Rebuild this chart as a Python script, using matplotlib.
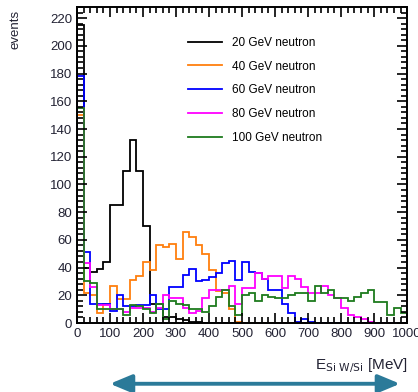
import numpy as np
import matplotlib
matplotlib.use('Agg')
import matplotlib.pyplot as plt
from matplotlib.ticker import MultipleLocator

plt.rcParams['font.family'] = ['Liberation Sans', 'DejaVu Sans']

# 50 bins of 20 MeV between 0 and 1000 MeV
edges = np.arange(0, 1001, 20)

n20 = [215, 40, 37, 39, 44, 85, 85, 110, 132, 110,
       70, 14, 14, 4, 4, 3, 2, 1, 1, 0,
       0, 0, 0, 0, 0, 0, 0, 0, 0, 0,
       0, 0, 0, 0, 0, 0, 0, 0, 0, 0,
       0, 0, 0, 0, 0, 0, 0, 0, 0, 0]
n40 = [150, 22, 20, 7, 14, 27, 17, 17, 31, 34,
       44, 38, 56, 55, 57, 46, 66, 62, 56, 50,
       38, 23, 22, 10, 1, 0, 0, 0, 0, 0,
       0, 0, 0, 0, 0, 0, 0, 0, 0, 0,
       0, 0, 0, 0, 0, 0, 0, 0, 0, 0]
n60 = [178, 51, 14, 14, 14, 9, 20, 12, 12, 13,
       13, 20, 10, 10, 26, 26, 35, 39, 30, 31,
       33, 36, 43, 45, 31, 44, 37, 36, 32, 24,
       24, 14, 7, 1, 3, 1, 0, 0, 0, 0,
       0, 0, 0, 0, 0, 0, 0, 0, 0, 0]
n80 = [155, 43, 26, 13, 13, 10, 10, 8, 11, 11,
       11, 8, 11, 20, 18, 18, 11, 7, 9, 18,
       24, 24, 24, 27, 14, 25, 25, 36, 32, 34,
       34, 25, 34, 32, 26, 22, 22, 27, 20, 18,
       11, 6, 4, 3, 1, 0, 0, 0, 0, 0]
n100 = [155, 30, 29, 10, 10, 10, 10, 6, 13, 12,
        10, 7, 14, 3, 16, 14, 13, 10, 10, 8,
        12, 19, 24, 12, 6, 20, 22, 16, 20, 19,
        18, 18, 20, 22, 22, 16, 27, 22, 24, 18,
        18, 16, 19, 22, 24, 15, 15, 6, 11, 7]

labels = ['20 GeV neutron', '40 GeV neutron', '60 GeV neutron',
          '80 GeV neutron', '100 GeV neutron']
colors = ['black', '#ff7f0e', '#0000ff', '#ff00ff', '#1e7b1e']

fig = plt.figure(figsize=(4.18, 3.92), dpi=100)
ax = fig.add_axes([0.184, 0.176, 0.79, 0.806])

for vals, lab, col in zip([n20, n40, n60, n80, n100], labels, colors):
    ax.stairs(vals, edges, baseline=0, color=col, lw=1.3, label=lab)

ax.set_xlim(0, 1000)
ax.set_ylim(0, 228)

ax.xaxis.set_major_locator(MultipleLocator(100))
ax.xaxis.set_minor_locator(MultipleLocator(20))
ax.yaxis.set_major_locator(MultipleLocator(20))
ax.yaxis.set_minor_locator(MultipleLocator(4))
ax.tick_params(which='both', direction='in', top=True, right=True,
               width=1.2, colors='black', labelcolor='#222233', labelsize=9.5)
ax.tick_params(which='major', length=7)
ax.tick_params(which='minor', length=4)
for s in ax.spines.values():
    s.set_linewidth(1.4)

ax.legend(loc='upper left', bbox_to_anchor=(0.336, 0.906), frameon=False,
          fontsize=8.5, borderpad=0, borderaxespad=0, labelspacing=1.0,
          handlelength=2.9, handletextpad=0.85)

fig.text(0.038, 0.975, 'events', rotation=90, ha='center', va='top',
         fontsize=9.5, color='#222233')
fig.text(0.975, 0.068, r'E$_{\mathrm{Si\ W/Si}}$ [MeV]', ha='right', va='center',
         fontsize=11, color='#222233')

# double arrow under the energy axis
ax.annotate('', xy=(0.957, 0.021), xytext=(0.263, 0.021),
            xycoords='figure fraction', textcoords='figure fraction',
            arrowprops=dict(arrowstyle='<|-|>,head_length=1.2,head_width=0.5',
                            color='#2b7a99', lw=2.8, mutation_scale=11,
                            shrinkA=0, shrinkB=0))

fig.savefig('out.png', dpi=100)
